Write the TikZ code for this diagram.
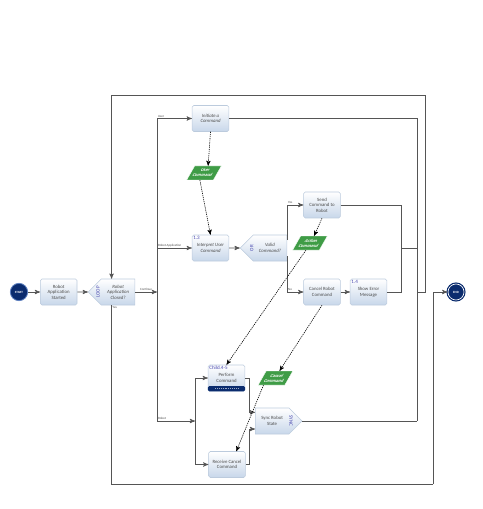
\documentclass[tikz,border=0pt]{standalone}
\usepackage{fontspec}
\setmainfont{Carlito}
\usetikzlibrary{arrows,positioning,calc,shapes.symbols}
\definecolor{boxline}{HTML}{BCCBDD}
\definecolor{boxbot}{HTML}{C8D7EA}
\definecolor{navy}{HTML}{0B2C6E}
\definecolor{rim}{HTML}{5C7FBF}
\definecolor{msggreen}{HTML}{3F9C46}
\definecolor{tagblue}{HTML}{4646AE}
\definecolor{flow}{HTML}{555555}
\tikzset{
    %Define standard arrow tip
    >=stealth',
    %Define style for boxes
    task/.style={
           rectangle,
           rounded corners=1.2pt,
           draw=boxline, line width=.4pt,
           top color=white, bottom color=boxbot,
           minimum width=27.5pt,
           minimum height=19.5pt,
           inner sep=.5pt,
           font=\fontsize{3.6}{4.2}\selectfont,
           text=black!70,
           align=center},
    gate/.style={
           signal,
           draw=boxline, line width=.4pt,
           top color=white, bottom color=boxbot,
           minimum width=35pt,
           minimum height=19.5pt,
           inner sep=.5pt,
           font=\fontsize{3.6}{4.2}\selectfont,
           text=black!70,
           align=center},
    message/.style={
           rectangle,
           xslant=.57,
           fill=msggreen, draw=white, line width=.3pt,
           minimum width=20pt,
           minimum height=10.5pt,
           inner sep=0pt,
           font=\fontsize{3.4}{3.8}\selectfont\bfseries,
           text=white,
           align=center},
    event/.style={
           circle,
           fill=navy, draw=rim, line width=.6pt,
           minimum size=13pt,
           inner sep=0pt,
           font=\fontsize{2.4}{2.6}\selectfont\bfseries,
           text=white},
    % Define arrow style
    seq/.style={
           ->,
           draw=flow,
           line width=.5pt},
    flowline/.style={
           draw=flow,
           line width=.5pt},
    msg/.style={
           ->,
           dash pattern=on .9pt off .7pt,
           line width=.45pt},
    lbl/.style={
           font=\fontsize{2.4}{2.6}\selectfont,
           text=black!70,
           inner sep=.6pt},
    tag/.style={
           font=\fontsize{3.8}{4}\selectfont,
           text=tagblue,
           inner sep=.6pt}
}
\begin{document}
\begin{tikzpicture}[x=0.75pt,y=-0.75pt,node distance=9pt]
\useasboundingbox (0,0) rectangle (482,509);

% events and tasks
\node[event](start) at (19,292){START};
\node[task, right=of start](started){Robot\\Application\\Started};
\node[gate, signal to=west, right=8pt of started](closed){\itshape Robot\\\itshape Application\\\itshape Closed?};
\node[task](initiate) at (210.5,118.5){\itshape Initiate a\\\itshape Command};
\node[task](interpret) at (210.5,248){\itshape Interpret User\\\itshape Command};
\node[gate, signal to=west, right=8pt of interpret](valid){\itshape Valid\\\itshape Command?};
\node[task](send) at (322,205){Send\\Command to\\Robot};
\node[task](cancelrobot) at (322,292){Cancel Robot\\Command};
\node[task, right=7pt of cancelrobot](showerror){Show Error\\Message};
\node[task](perform) at (226.5,378){Perform\\Command};
\node[task](receive) at (227,464.5){Receive Cancel\\Command};
\node[gate, signal to=east, anchor=west](sync) at (255,421){Sync Robot\\State};
\node[event, draw=navy, line width=.9pt, minimum size=12pt,
      double=white, double distance=.5pt](end) at (456,292){END};

% messages
\node[message](usercmd) at (204,173){User\\Command};
\node[message](action) at (310,243){Action\\Command};
\node[message](cancelcmd) at (275.5,378){Cancel\\Command};

% markers
\fill[navy, rounded corners=1pt] ([yshift=3.8pt]perform.south west) rectangle (perform.south east);
\draw[white!60!navy, line width=.4pt, densely dotted] ([xshift=5.5pt,yshift=1.9pt]perform.south west) -- ([xshift=-5.5pt,yshift=1.9pt]perform.south east);
\node[tag, anchor=north west](tag13) at ([xshift=.3pt,yshift=-.3pt]interpret.north west){1.3};
\node[tag, anchor=north west](tag14) at ([xshift=.3pt,yshift=-.3pt]showerror.north west){1.4};
\node[tag, anchor=north west](tagchild) at ([xshift=.3pt,yshift=-.3pt]perform.north west){Child.4-5};
\node[tag, rotate=90](tagloop) at ([xshift=7.5pt]closed.west){LOOP};
\node[tag, rotate=90](tagor) at ([xshift=9pt]valid.west){OR};
\node[tag, rotate=-90](tagsync) at ([xshift=-8.5pt]sync.east){SYNC};

% junctions
\coordinate (closedmid) at ($(closed.west)!.5!(closed.east)$);
\coordinate (split) at (157,292);
\coordinate (fork) at (195,421);
\coordinate (merge) at (417,421);
\coordinate (joinerr) at (401,248);
\coordinate (back) at (425,292);
\coordinate (looptop) at (425,95);
\coordinate (exit) at (433,484);

% sequence flows
\draw[seq] (start) -- (started);
\draw[seq] (started) -- (closed);
\draw[seq] (closed.east) -- node[lbl,above]{Continue} (split);
\draw[flowline] (split |- initiate) -- (split |- fork);
\draw[seq] (split |- initiate) -- node[lbl,above right,pos=0]{User} (initiate);
\draw[seq] (split |- interpret) -- node[lbl,above right,pos=0]{Robot Application} (interpret);
\draw[seq] (split |- fork) -- node[lbl,above right,pos=0]{Robot} (fork);
\draw[flowline] (fork |- perform) -- (fork |- receive);
\draw[seq] (fork |- perform) -- (perform);
\draw[seq] (fork |- receive) -- (receive);
\draw[seq] (perform.east) -- ++(4,0) |- ([yshift=6.5pt]sync.west);
\draw[seq] (receive.east) -- ++(4,0) |- ([yshift=-6pt]sync.west);
\draw[flowline] (sync.east) -- (merge);
\draw[flowline] (initiate.east) -| (merge);
\draw[seq] (interpret) -- (valid);
\draw[seq] ([yshift=6pt]valid.east) |- node[lbl,pos=.5,anchor=south west]{Yes} (send);
\draw[seq] ([yshift=-6pt]valid.east) |- node[lbl,pos=.5,anchor=south west]{No} (cancelrobot);
\draw[seq] (cancelrobot) -- (showerror);
\draw[flowline] (send) -| (joinerr);
\draw[flowline] (showerror) -| (joinerr);
\draw[flowline] (joinerr) -- (joinerr -| merge);
\draw[seq] (merge |- back) -- (back) -- (looptop) -| (closedmid |- closed.north);
\draw[flowline] (closedmid |- closed.south) -- node[lbl,anchor=north west,pos=0]{Yes} (closedmid |- exit) -- (exit);
\draw[seq] (exit) |- (end);

% message flows
\draw[msg] (initiate.south) -- (usercmd.north);
\draw[msg] (usercmd.south) -- (interpret.north);
\draw[msg] (send.south) -- (action.north);
\draw[msg] (action.south) -- (perform.north);
\draw[msg] (cancelrobot.south) -- (cancelcmd.north);
\draw[msg] ([xshift=-6pt]cancelcmd.south) -- ([xshift=7pt]receive.north);

\end{tikzpicture}
\end{document}
